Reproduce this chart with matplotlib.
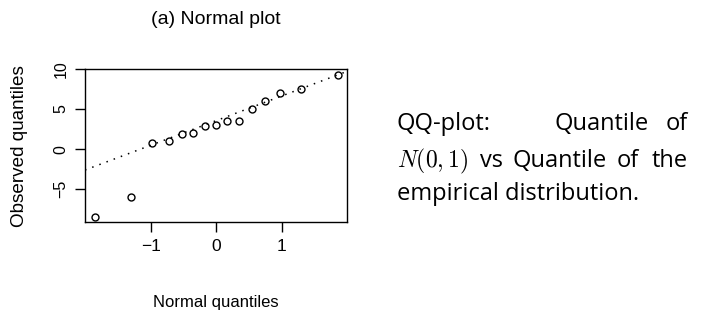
import matplotlib
matplotlib.use("Agg")
import matplotlib.pyplot as plt

# data
theoretical = [-1.86, -1.30, -0.98, -0.73, -0.53, -0.35, -0.17, 0.0,
               0.17, 0.34, 0.54, 0.74, 0.98, 1.30, 1.86]
observed = [-8.42, -5.93, 0.71, 1.00, 1.83, 1.99, 2.90, 2.99,
            3.48, 3.57, 5.06, 6.06, 6.97, 7.46, 9.29]
line_intercept = 3.56
line_slope = 3.07
x_ticks = [-1, 0, 1]
y_ticks = [-5, 0, 5, 10]
x_ticklabels = ['\u22121', '0', '1']
y_ticklabels = ['\u22125', '0', '5', '10']

plt.rcParams['mathtext.fontset'] = 'cm'

fig = plt.figure(figsize=(7.03, 3.14), dpi=100)
ax = fig.add_axes([85/703, 1-222/314, 262/703, 153/314])

xl = (-2.01, 2.0)
ax.plot(xl, [line_intercept + line_slope*v for v in xl], color='black',
        linestyle=(0, (1, 4)), lw=1.1)
ax.plot(theoretical, observed, linestyle='none', marker='o', markersize=5,
        markerfacecolor='none', markeredgecolor='black', markeredgewidth=1.0)
ax.set_xlim(*xl)
ax.set_ylim(-9.1, 10.0)
ax.set_xticks(x_ticks)
ax.set_yticks(y_ticks)
ax.set_xticklabels(x_ticklabels, family='Liberation Sans', fontsize=12.5)
ax.set_yticklabels(y_ticklabels, family='Liberation Sans',
                   fontsize=11.5, rotation=90, va='center')
ax.tick_params(direction='out', length=7, width=1, pad=5)
for s in ax.spines.values():
    s.set_linewidth(1)

fig.text(216/703, 1-20/314, '(a) Normal plot', family='Liberation Sans',
         fontsize=14, ha='center', va='center')
fig.text(216/703, 1-302/314, 'Normal quantiles', family='Liberation Sans',
         fontsize=12, ha='center', va='center')
fig.text(20/703, 1-146/314, 'Observed quantiles', family='Liberation Sans',
         fontsize=13.6, ha='center', va='center', rotation=90)

fs = 17
fam = 'Open Sans'
def t(x, y, s, ha='left'):
    fig.text(x/703, 1-y/314, s, family=fam, fontsize=fs, ha=ha, va='baseline')

t(397, 130, 'QQ-plot:')
t(555, 130, 'Quantile')
t(688, 130, 'of', ha='right')
t(397, 167, '$N(0,1)$')
t(480, 167, 'vs')
t(513, 167, 'Quantile')
t(617, 167, 'of')
t(688, 167, 'the', ha='right')
t(397, 200, 'empirical distribution.')

fig.savefig('out.png', dpi=100)
